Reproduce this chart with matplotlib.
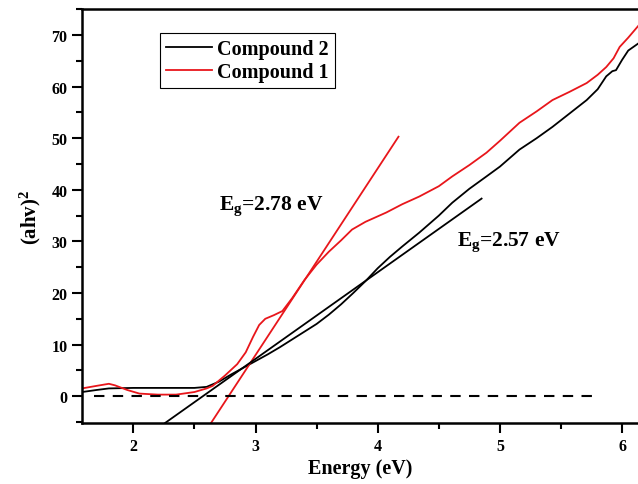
import numpy as np
import matplotlib
matplotlib.use("Agg")
import matplotlib.pyplot as plt
from matplotlib.ticker import MultipleLocator

plt.rcParams['font.family'] = 'Liberation Serif'
plt.rcParams['font.weight'] = 'bold'
plt.rcParams['mathtext.fontset'] = 'custom'
plt.rcParams['mathtext.bf'] = 'Liberation Serif:bold'
plt.rcParams['mathtext.rm'] = 'Liberation Serif:bold'
plt.rcParams['mathtext.it'] = 'Liberation Serif:bold'

# Compound 2 (black)
e2 = [1.58, 1.7, 1.8, 2.0, 2.3, 2.5, 2.6, 2.7, 2.8, 2.9, 3.0, 3.1, 3.2, 3.3, 3.4, 3.5,
      3.6, 3.7, 3.8, 3.9, 4.0, 4.1, 4.2, 4.34, 4.5, 4.61, 4.75, 4.89, 5.0, 5.16, 5.3,
      5.43, 5.57, 5.71, 5.8, 5.87, 5.92, 5.95, 6.0, 6.05, 6.11, 6.14]
y2 = [0.8, 1.2, 1.5, 1.6, 1.6, 1.6, 1.8, 2.8, 4.2, 5.5, 6.8, 8.1, 9.5, 11.0, 12.5, 14.0,
      15.8, 17.8, 20.0, 22.3, 24.8, 27.0, 29.0, 31.7, 35.0, 37.5, 40.2, 42.6, 44.5, 47.8, 50.0,
      52.2, 54.8, 57.4, 59.5, 62.0, 63.0, 63.2, 65.2, 67.0, 68.0, 68.5]

# Compound 1 (red)
e1 = [1.58, 1.7, 1.8, 1.85, 1.95, 2.05, 2.2, 2.35, 2.5, 2.6, 2.65, 2.75, 2.85, 2.92, 2.98,
      3.03, 3.08, 3.15, 3.22, 3.3, 3.4, 3.5, 3.6, 3.7, 3.79, 3.9, 4.07, 4.2, 4.34, 4.5,
      4.61, 4.75, 4.89, 5.0, 5.16, 5.3, 5.43, 5.57, 5.71, 5.8, 5.87, 5.93, 5.98, 6.05, 6.14]
y1 = [1.5, 2.0, 2.4, 2.1, 1.2, 0.5, 0.3, 0.3, 0.8, 1.5, 2.0, 4.0, 6.2, 8.5, 11.5,
      13.8, 15.0, 15.7, 16.5, 19.0, 22.5, 25.5, 28.0, 30.2, 32.3, 33.8, 35.6, 37.2, 38.7, 40.7,
      42.6, 44.8, 47.2, 49.5, 53.0, 55.2, 57.4, 59.0, 60.7, 62.3, 63.8, 65.5, 67.7, 69.5, 72.0]

# tangent fits (Tauc)
fit1_x = [2.636, 4.17]
fit1_y = [-5.2, 50.3]
fit2_x = [2.26, 4.85]
fit2_y = [-5.2, 38.3]
base_x = [1.68, 5.8]
base_y = [0, 0]

fig = plt.figure(figsize=(6.38, 4.85), dpi=100)
ax = fig.add_axes([0.1285, 0.1258, 0.8715, 0.853])

ax.plot(e2, y2, color='black', lw=1.3, label='Compound 2')
ax.plot(e1, y1, color='#e8161b', lw=1.3, label='Compound 1')
ax.plot(fit1_x, fit1_y, color='#e8161b', lw=1.3)
ax.plot(fit2_x, fit2_y, color='black', lw=1.3)
ax.plot(base_x, base_y, color='black', lw=1.5, ls=(0, (5, 4)))

ax.set_xlim(1.58, 6.13)
ax.set_ylim(-5.2, 75)
ax.xaxis.set_major_locator(MultipleLocator(1))
ax.xaxis.set_minor_locator(MultipleLocator(0.5))
ax.yaxis.set_major_locator(MultipleLocator(10))
ax.yaxis.set_minor_locator(MultipleLocator(5))
ax.tick_params(which='both', direction='out', width=1.5, labelsize=11.5)
ax.tick_params(which='major', length=7)
ax.tick_params(which='minor', length=4)
ax.spines['right'].set_visible(False)
for s in ['left', 'bottom', 'top']:
    ax.spines[s].set_linewidth(1.8)

ax.set_xlabel('Energy (eV)', fontsize=14.5, fontweight='bold', labelpad=3)
ax.set_ylabel(r'$\mathbf{(ahv)^2}$', fontsize=15, labelpad=6)

ax.text(2.70, 36.3, r'$\mathbf{E_g}$=2.78 eV', fontsize=15.5)
ax.text(4.65, 29.3, r'$\mathbf{E_g}$=2.57 eV', fontsize=15.5)

leg = ax.legend(loc='upper left', bbox_to_anchor=(0.14, 0.942), fontsize=14.5,
                frameon=True, fancybox=False, edgecolor='black', framealpha=1,
                handlelength=2.3, borderpad=0.3, labelspacing=0.15, handletextpad=0.25,
                borderaxespad=0)
leg.get_frame().set_linewidth(0.8)

fig.savefig('out.png', dpi=100)
